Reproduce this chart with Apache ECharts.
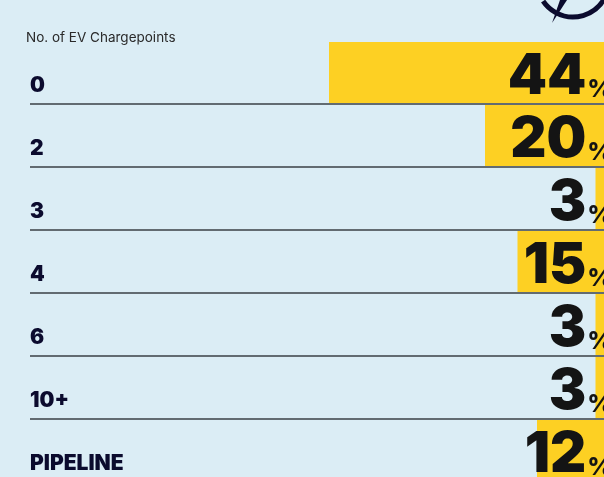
<!DOCTYPE html>
<html>
<head>
<meta charset="utf-8">
<title>EV Chargepoints</title>
<script src="https://cdn.jsdelivr.net/npm/echarts@6/dist/echarts.min.js"></script>
<style>
html, body { margin:0; height:100%; background:#dbedf5; overflow:hidden; }
</style>
</head>
<body>
<!-- the source graphic is cropped on the right and bottom, so the chart is a bit bigger than the window -->
<div id="main" style="width:615px;height:482px;"></div>
<script>
// categories and shares (%) as printed on the chart
var categories = ['0', '2', '3', '4', '6', '10+', 'PIPELINE'];
var shares = [44, 20, 3, 15, 3, 3, 12];

var myChart = echarts.init(document.getElementById('main'));

var option = {
    backgroundColor: '#dbedf5',
    title: {
        text: 'No. of EV Chargepoints',
        left: 26,
        top: 31,
        padding: 0,
        textStyle: {
            fontFamily: 'Inter',
            fontSize: 13.5,
            fontWeight: 'normal',
            color: '#2a2a2a'
        }
    },
    grid: {
        left: 30,
        right: 0,
        top: 41,
        bottom: 0
    },
    xAxis: {
        type: 'value',
        inverse: true,
        min: 0,
        max: 90,
        show: false
    },
    yAxis: {
        type: 'category',
        inverse: true,
        data: categories,
        position: 'left',
        axisLine: { show: false, onZero: false },
        axisTick: { show: false },
        splitLine: {
            show: true,
            interval: function (index) { return index !== 0; },
            lineStyle: { color: '#3a3f44', width: 1.5 }
        },
        axisLabel: {
            inside: true,
            margin: 0,
            align: 'left',
            verticalAlign: 'top',
            lineHeight: 27,
            fontFamily: 'Inter',
            fontWeight: 900,
            fontSize: 21,
            color: '#0b0b2e'
        }
    },
    series: [{
        type: 'bar',
        data: shares,
        barCategoryGap: '3%',
        itemStyle: { color: '#fdd023' },
        label: {
            show: true,
            position: 'insideRight',
            distance: 7,
            offset: [5, 3],
            formatter: function (p) { return '{n|' + p.value + '}{p|%}'; },
            rich: {
                n: {
                    fontFamily: 'Inter',
                    fontWeight: 900,
                    fontSize: 56,
                    color: '#141414',
                    lineHeight: 60,
                    verticalAlign: 'bottom'
                },
                p: {
                    fontFamily: 'Inter',
                    fontWeight: 800,
                    fontSize: 25,
                    color: '#141414',
                    lineHeight: 40,
                    verticalAlign: 'bottom',
                    padding: [0, 0, 4, 1]
                }
            }
        }
    }],
    graphic: [{
        type: 'arc',
        shape: { cx: 573, cy: -19, r: 36, startAngle: 0.5, endAngle: 2.55 },
        style: { stroke: '#0b0b2e', lineWidth: 5, fill: null }
    }, {
        type: 'polygon',
        shape: { points: [[560, 0], [567, 0], [552, 23]] },
        style: { fill: '#0b0b2e' }
    }]
};

myChart.setOption(option);
</script>
</body>
</html>
